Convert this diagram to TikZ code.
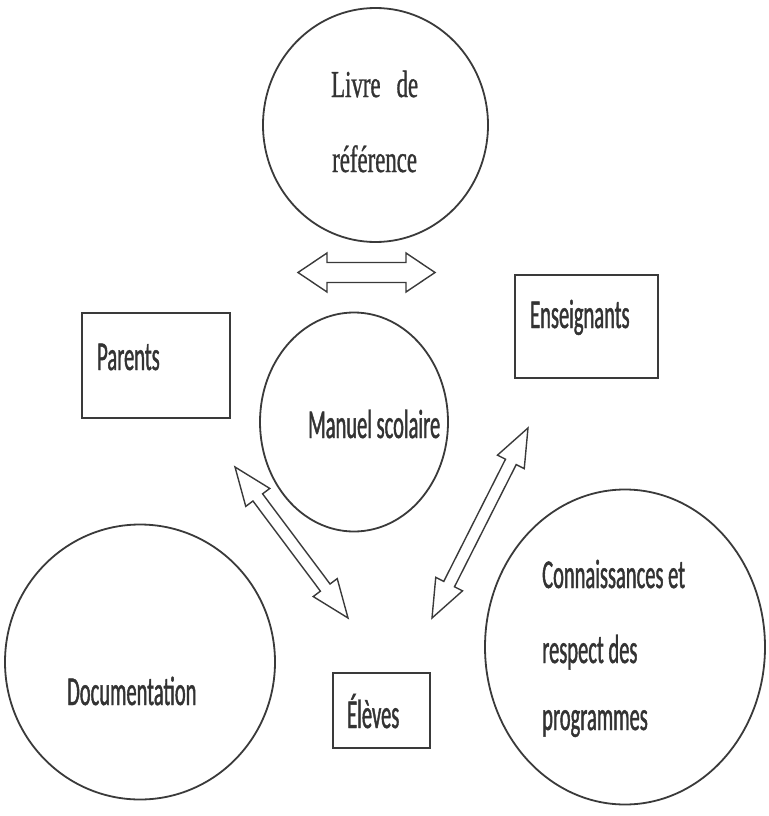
\documentclass[tikz,border=0pt]{standalone}
\usepackage{fontspec}
\setmainfont{Carlito}
\newfontfamily\calfont[FakeStretch=0.5,FakeBold=1]{Carlito}
\newfontfamily\timesfont[FakeStretch=0.6,FakeBold=0.8]{Liberation Serif}
\usetikzlibrary{shapes.geometric}
\definecolor{linec}{HTML}{3A3A3A}
\definecolor{textc}{HTML}{333333}
\tikzset{
  outline/.style={draw=linec, line width=1.8pt, fill=white},
  oval/.style={outline, ellipse, inner sep=0pt},
  boxshape/.style={outline, rectangle, inner sep=0pt},
  lbl/.style={anchor=base west, inner sep=0pt, text=textc, font=\calfont\fontsize{41}{45}\selectfont},
  serlbl/.style={anchor=base west, inner sep=0pt, text=textc, font=\timesfont\fontsize{38}{42}\selectfont},
  blockarrow/.style={draw=linec, line width=1.4pt, fill=white, line join=miter}
}
% #1 start coordinate, #2 angle, #3 length, #4 head length, #5 shaft half width, #6 head half width
\newcommand{\blockdbl}[6]{%
  \draw[blockarrow, shift={(#1)}, rotate=#2]
    (0,0) -- (#4,-#6) -- (#4,-#5) -- ({#3-#4},-#5) -- ({#3-#4},-#6) -- (#3,0)
    -- ({#3-#4},#6) -- ({#3-#4},#5) -- (#4,#5) -- (#4,#6) -- cycle;}
\begin{document}
\begin{tikzpicture}[x=1pt,y=-1pt]
\useasboundingbox (0,0) rectangle (768,816);
% shapes
\node[oval, minimum width=225pt, minimum height=234pt] (livre) at (375.5,125) {};
\node[oval, minimum width=188pt, minimum height=219pt] (manuel) at (354,422) {};
\node[oval, minimum width=270pt, minimum height=275pt] (doc) at (140,662) {};
\node[oval, minimum width=280pt, minimum height=315pt] (conn) at (625,647) {};
\node[boxshape, minimum width=148pt, minimum height=105pt] (parents) at (156,365.5) {};
\node[boxshape, minimum width=143pt, minimum height=103pt] (ens) at (586.5,326.5) {};
\node[boxshape, minimum width=97pt, minimum height=75pt] (eleves) at (381.5,710.5) {};
% texts
\node[serlbl] (t1) at (331,97) {Livre\hspace{16pt}de};
\node[serlbl] (t2) at (332,172) {référence};
\node[lbl] (t3) at (97,370) {Parents};
\node[lbl] (t4) at (530,328) {Enseignants};
\node[lbl] (t5) at (308,438) {Manuel scolaire};
\node[lbl] (t6) at (67,705) {Documentation};
\node[lbl] (t7) at (347,728) {Élèves};
\node[lbl] (t8) at (542,588) {Connaissances et};
\node[lbl] (t9) at (542,663) {respect des};
\node[lbl] (t10) at (542,730) {programmes};
% arrow tips
\coordinate (h1) at (298,272.5);
\coordinate (d1) at (235,467);
\coordinate (d2) at (432,618);
\blockdbl{h1}{0}{137}{29}{10}{19.5}
\blockdbl{d1}{-53.19}{188.6}{38}{6}{15}
\blockdbl{d2}{63.2}{212.9}{38}{6}{15}
\end{tikzpicture}
\end{document}
